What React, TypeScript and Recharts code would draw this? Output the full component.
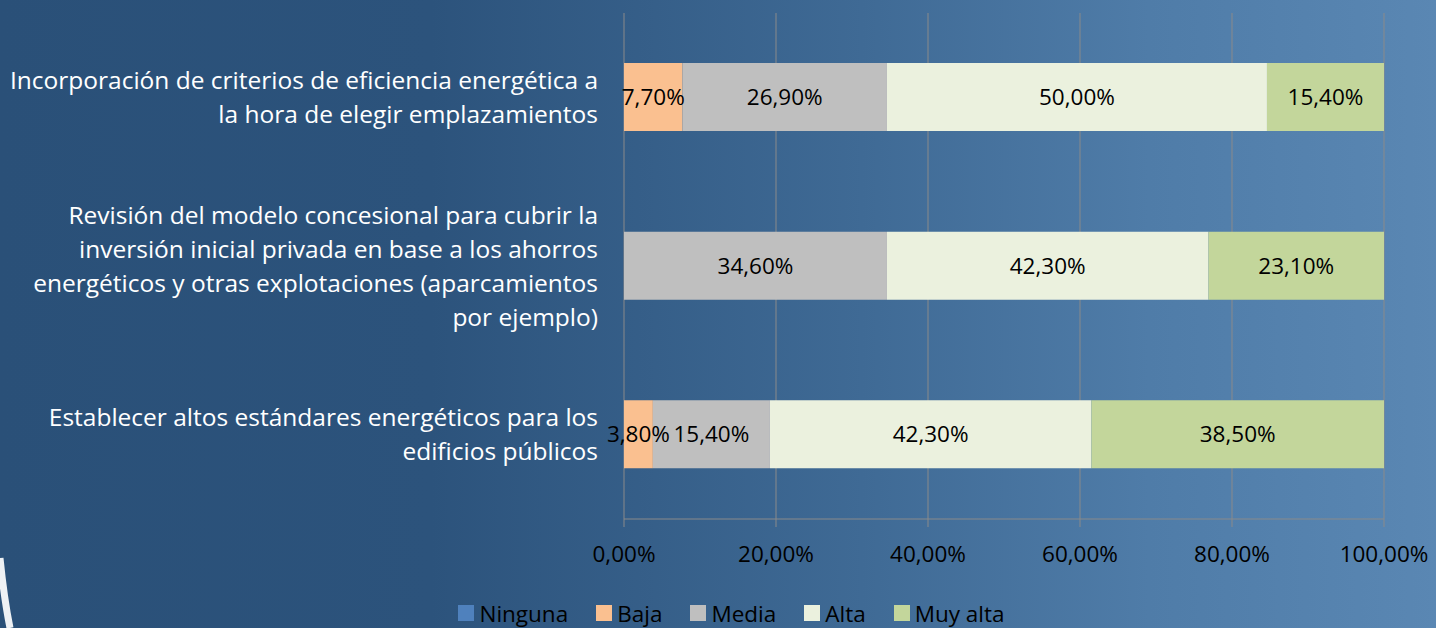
import { BarChart, Bar, XAxis, YAxis, CartesianGrid, Legend, LabelList } from "recharts";

const categories = [
  "Incorporación de criterios de eficiencia energética a\nla hora de elegir emplazamientos",
  "Revisión del modelo concesional para cubrir la\ninversión inicial privada en base a los ahorros\nenergéticos y otras explotaciones (aparcamientos\npor ejemplo)",
  "Establecer altos estándares energéticos para los\nedificios públicos",
];

const ninguna = [0, 0, 0];
const baja = [7.7, 0, 3.8];
const media = [26.9, 34.6, 15.4];
const alta = [50.0, 42.3, 42.3];
const muyAlta = [15.4, 23.1, 38.5];

const xTicks = [0, 20, 40, 60, 80, 100];

const series = [
  { key: "Ninguna", values: ninguna, color: "#4F81BD" },
  { key: "Baja", values: baja, color: "#FAC090" },
  { key: "Media", values: media, color: "#BFBFBF" },
  { key: "Alta", values: alta, color: "#EBF1DE" },
  { key: "Muy alta", values: muyAlta, color: "#C3D69B" },
];

const data = categories.map((name, i) => {
  const row: Record<string, string | number> = { name };
  series.forEach((s) => {
    row[s.key] = s.values[i];
  });
  return row;
});

const FONT = "'Open Sans', sans-serif";
const fmt = (v: number) => v.toFixed(2).replace(".", ",") + "%";

const CategoryTick = (props: any) => {
  const { x, y, payload } = props;
  const lines = String(payload.value).split("\n");
  const lh = 34;
  const start = y - ((lines.length - 1) * lh) / 2;
  return (
    <text x={x} y={start} textAnchor="end" fill="#fff" fontSize={24.5} fontFamily={FONT}>
      {lines.map((l, i) => (
        <tspan key={i} x={x} y={start + i * lh} dy="0.35em">
          {l}
        </tspan>
      ))}
    </text>
  );
};

const LegendContent = () => (
  <div
    style={{
      display: "flex",
      justifyContent: "center",
      alignItems: "center",
      height: 30,
      paddingLeft: 79,
      fontFamily: FONT,
      fontSize: 22.5,
      color: "#000",
    }}
  >
    {series.map((s, i) => (
      <div
        key={s.key}
        style={{ display: "flex", alignItems: "center", marginRight: i === series.length - 1 ? 0 : 28 }}
      >
        <span style={{ width: 16, height: 16, background: s.color, marginRight: 5, display: "inline-block" }} />
        <span>{s.key}</span>
      </div>
    ))}
  </div>
);

export default function App() {
  return (
    <div
      style={{
        position: "relative",
        width: 1436,
        height: 628,
        background:
          "linear-gradient(to right, #2a5078 0%, #2c537c 30%, #3f6a95 60%, #4f7ca8 80%, #5a87b3 100%)",
        overflow: "hidden",
      }}
    >
      <style>{"body{margin:0}"}</style>
      <svg width={40} height={100} style={{ position: "absolute", left: 0, top: 528 }}>
        <path d="M0,30 Q4,70 10,100" stroke="#eef1f4" strokeWidth={7} fill="none" />
      </svg>
      <BarChart
        width={1436}
        height={628}
        data={data}
        layout="vertical"
        margin={{ top: 13, right: 52, left: 0, bottom: 0 }}
        barSize={68}
        style={{ position: "absolute", left: 0, top: 0 }}
      >
        <CartesianGrid horizontal={false} stroke="#8a8a8a" />
        <YAxis
          yAxisId="ticks"
          type="number"
          domain={[0, 3]}
          ticks={[0, 1, 2, 3]}
          allowDataOverflow
          width={0}
          tick={false}
          tickSize={6}
          stroke="#8a8a8a"
        />
        <YAxis
          yAxisId="cat"
          type="category"
          dataKey="name"
          width={624}
          axisLine={false}
          tickLine={false}
          tickSize={0}
          tickMargin={26}
          tick={<CategoryTick />}
          interval={0}
        />
        <XAxis
          type="number"
          domain={[0, 100]}
          ticks={xTicks}
          tickFormatter={fmt}
          height={79}
          tickSize={8}
          tickMargin={19}
          stroke="#8a8a8a"
          tick={{ fill: "#000", fontSize: 22.5, fontFamily: FONT }}
        />
        <Legend verticalAlign="bottom" content={<LegendContent />} />
        {series.map((s) => (
          <Bar
            key={s.key}
            yAxisId="cat"
            dataKey={s.key}
            stackId="a"
            fill={s.color}
            isAnimationActive={false}
          >
            <LabelList
              dataKey={s.key}
              position="center"
              formatter={(v: any) => (v ? fmt(Number(v)) : "")}
              fill="#000"
              fontSize={22.5}
              fontFamily={FONT}
            />
          </Bar>
        ))}
      </BarChart>
    </div>
  );
}
